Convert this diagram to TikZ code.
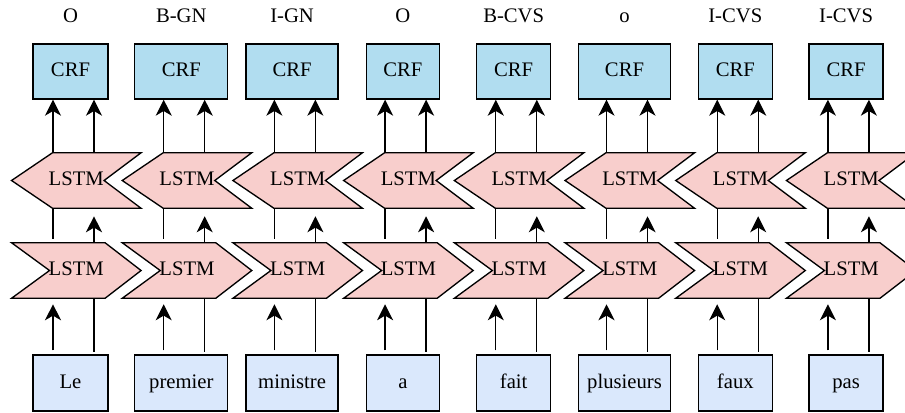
\documentclass[tikz,border=0pt]{standalone}
\usepackage{fontspec}
\setmainfont{Liberation Serif}
\usetikzlibrary{backgrounds,arrows.meta}

\definecolor{crfblue}{HTML}{B1DDF0}
\definecolor{wordblue}{HTML}{DAE8FC}
\definecolor{lstmred}{HTML}{F8CECC}

\begin{document}
\begin{tikzpicture}[x=0.75pt, y=-0.75pt,
    every node/.style={font=\rmfamily\fontsize{15.5}{18}\selectfont, inner sep=0pt,
      text height=10.5pt, text depth=3pt},
    crfbox/.style={draw, line width=1pt, fill=crfblue, minimum height=41.25pt},
    wordbox/.style={draw, line width=1pt, fill=wordblue, minimum height=42pt},
    lstmbox/.style={minimum width=96.75pt, minimum height=41.25pt},
    chevron/.style={draw, line width=1pt, fill=lstmred},
    link/.style={line width=1pt},
    >={Stealth[length=12pt, width=12pt, inset=3.5pt]}]
    \useasboundingbox (0,0) rectangle (905,412);

    % one column per word
    \foreach \k/\w/\tag/\word in {0/75/O/Le, 1/93/B-GN/premier, 2/92/I-GN/ministre, 3/73/O/a,
        4/74/B-CVS/fait, 5/92/o/plusieurs, 6/74/I-CVS/faux, 7/74/I-CVS/pas} {
      \pgfmathsetmacro{\cx}{70.5+110.8*\k}
      \pgfmathsetmacro{\lx}{76.3+110.7*\k}
      \node (tag\k) at (\cx,17) {\tag};
      \node[crfbox, minimum width=\w*0.75pt] (crf\k) at (\cx,71.5) {CRF};
      \node[lstmbox] (bwd\k) at (\lx,180.5) {LSTM};
      \node[lstmbox] (fwd\k) at (\lx,270.5) {LSTM};
      \node[wordbox, minimum width=\w*0.75pt] (word\k) at (\cx,383) {\word};
      \coordinate (left\k) at (53+110.7*\k,0);
      \coordinate (right\k) at (94+110.7*\k,0);

      % LSTM shapes behind their labels
      \begin{scope}[on background layer]
        \draw[chevron] (bwd\k.west) -- ([xshift=30.75pt]bwd\k.north west) -- (bwd\k.north east)
          -- ([xshift=-27.75pt]bwd\k.east) -- (bwd\k.south east) -- ([xshift=30.75pt]bwd\k.south west) -- cycle;
        \draw[chevron] (fwd\k.north west) -- ([xshift=-27pt]fwd\k.north east) -- (fwd\k.east)
          -- ([xshift=-27pt]fwd\k.south east) -- (fwd\k.south west) -- ([xshift=28.5pt]fwd\k.west) -- cycle;
      \end{scope}

      % LSTM outputs into CRF
      \draw[link, ->] (bwd\k.north -| left\k) -- (crf\k.south -| left\k);
      \draw[link, ->] (bwd\k.north -| right\k) -- (crf\k.south -| right\k);
      % forward to backward
      \draw[link, shorten >=3pt] (bwd\k.south -| left\k) -- (fwd\k.north -| left\k);
      \draw[link, ->, shorten >=6pt] (fwd\k.north -| right\k) -- (bwd\k.south -| right\k);
      % words into forward LSTM
      \draw[link, ->, shorten <=3pt, shorten >=4.5pt] (word\k.north -| left\k) -- (fwd\k.south -| left\k);
      \draw[link, shorten >=2pt] (fwd\k.south -| right\k) -- (word\k.north -| right\k);
    }
  \end{tikzpicture}
\end{document}
